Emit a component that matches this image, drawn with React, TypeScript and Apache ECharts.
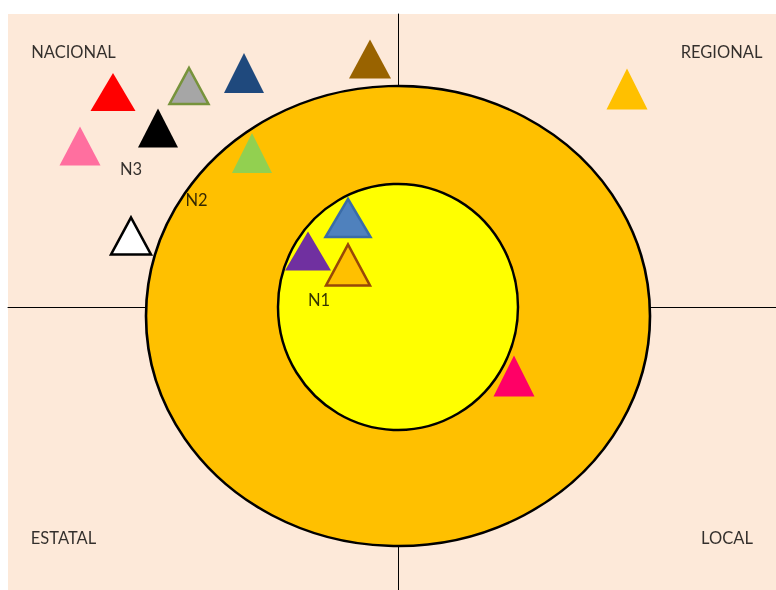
import React, { useEffect, useRef } from "react";
import * as echarts from "echarts";

// Concentric levels (centre x, centre y) in chart units
const ringNames = ["N2 (outer)", "N1 (inner)"];
const ringX = [0, 0];
const ringY = [-9, 0];

// Actors (triangles)
const actorNames = [
  "red", "grey", "navy", "black", "pink", "brown", "lightgreen",
  "orangeRight", "blue", "purple", "orangeInner", "magenta", "white",
];
const actorX = [-285, -209, -154, -240, -318, -28, -146, 229, -50, -90, -50, 116, -267];
const actorY = [215, 221, 234, 179, 161, 248, 154, 218, 89, 56, 42, -69, 71];

// Text labels
const labelTexts = ["NACIONAL", "REGIONAL", "ESTATAL", "LOCAL", "N3", "N2", "N1"];
const labelX = [-324.5, 323.5, -334.5, 329, -267, -201.5, -79];
const labelY = [255, 255, -231, -231, 138, 107, 7];

// Styling (kept apart from data)
const ringSizes = [[504, 460], [240, 246]];
const ringColors = ["#FFC000", "#FFFF00"];
const actorSizes = [
  [45, 38], [39, 36], [40, 40], [40, 39], [41, 39], [42, 39], [40, 40],
  [41, 41], [45, 38], [46, 39], [44, 41], [41, 41], [40, 37],
];
const actorFill = [
  "#FF0000", "#A6A6A6", "#1F497D", "#000000", "#FF6F9F", "#996300", "#92D050",
  "#FFC000", "#4F81BD", "#7030A0", "#FFC000", "#FF0066", "#FFFFFF",
];
const actorStroke = [
  null, "#77933C", null, null, null, null, null,
  null, "#3A6CA8", null, "#984807", null, "#000000",
];

export default function App() {
  const ref = useRef<HTMLDivElement>(null);
  useEffect(() => {
    if (!ref.current) return;
    const chart = echarts.init(ref.current, null, { renderer: "svg" });
    chart.setOption({
      animation: false,
      grid: {
        left: 8, top: 14, right: 0, bottom: 0,
        show: true, backgroundColor: "#FDE9D9", borderWidth: 0,
      },
      xAxis: {
        type: "value", min: -390, max: 378,
        axisLine: { show: true, onZero: true, lineStyle: { color: "#000", width: 1 } },
        axisTick: { show: false }, axisLabel: { show: false }, splitLine: { show: false },
      },
      yAxis: {
        type: "value", min: -283, max: 293,
        axisLine: { show: true, onZero: true, lineStyle: { color: "#000", width: 1 } },
        axisTick: { show: false }, axisLabel: { show: false }, splitLine: { show: false },
      },
      series: [
        {
          type: "scatter",
          name: "levels",
          symbol: "circle",
          silent: true,
          data: ringNames.map((n, i) => ({
            name: n,
            value: [ringX[i], ringY[i]],
            symbolSize: ringSizes[i],
            itemStyle: { color: ringColors[i], borderColor: "#000", borderWidth: 2.5, opacity: 1 },
          })),
        },
        {
          type: "scatter",
          name: "actors",
          symbol: "triangle",
          silent: true,
          data: actorNames.map((n, i) => ({
            name: n,
            value: [actorX[i], actorY[i]],
            symbolSize: actorSizes[i],
            itemStyle: {
              color: actorFill[i],
              opacity: 1,
              borderColor: actorStroke[i] || actorFill[i],
              borderWidth: actorStroke[i] ? 2.5 : 0,
            },
          })),
        },
        {
          type: "scatter",
          name: "labels",
          symbolSize: 0,
          silent: true,
          data: labelTexts.map((t, i) => ({ name: t, value: [labelX[i], labelY[i]] })),
          label: {
            show: true,
            position: "inside",
            formatter: (p: any) => p.name,
            color: "#000",
            fontFamily: "Lato",
            fontSize: 16.5,
            align: "center",
            verticalAlign: "middle",
            textBorderWidth: 0,
          },
        },
      ],
    });
    return () => chart.dispose();
  }, []);
  return (
    <div style={{ position: "fixed", left: 0, top: 0, width: 776, height: 590 }}>
      <div ref={ref} style={{ width: 776, height: 590 }} />
    </div>
  );
}
